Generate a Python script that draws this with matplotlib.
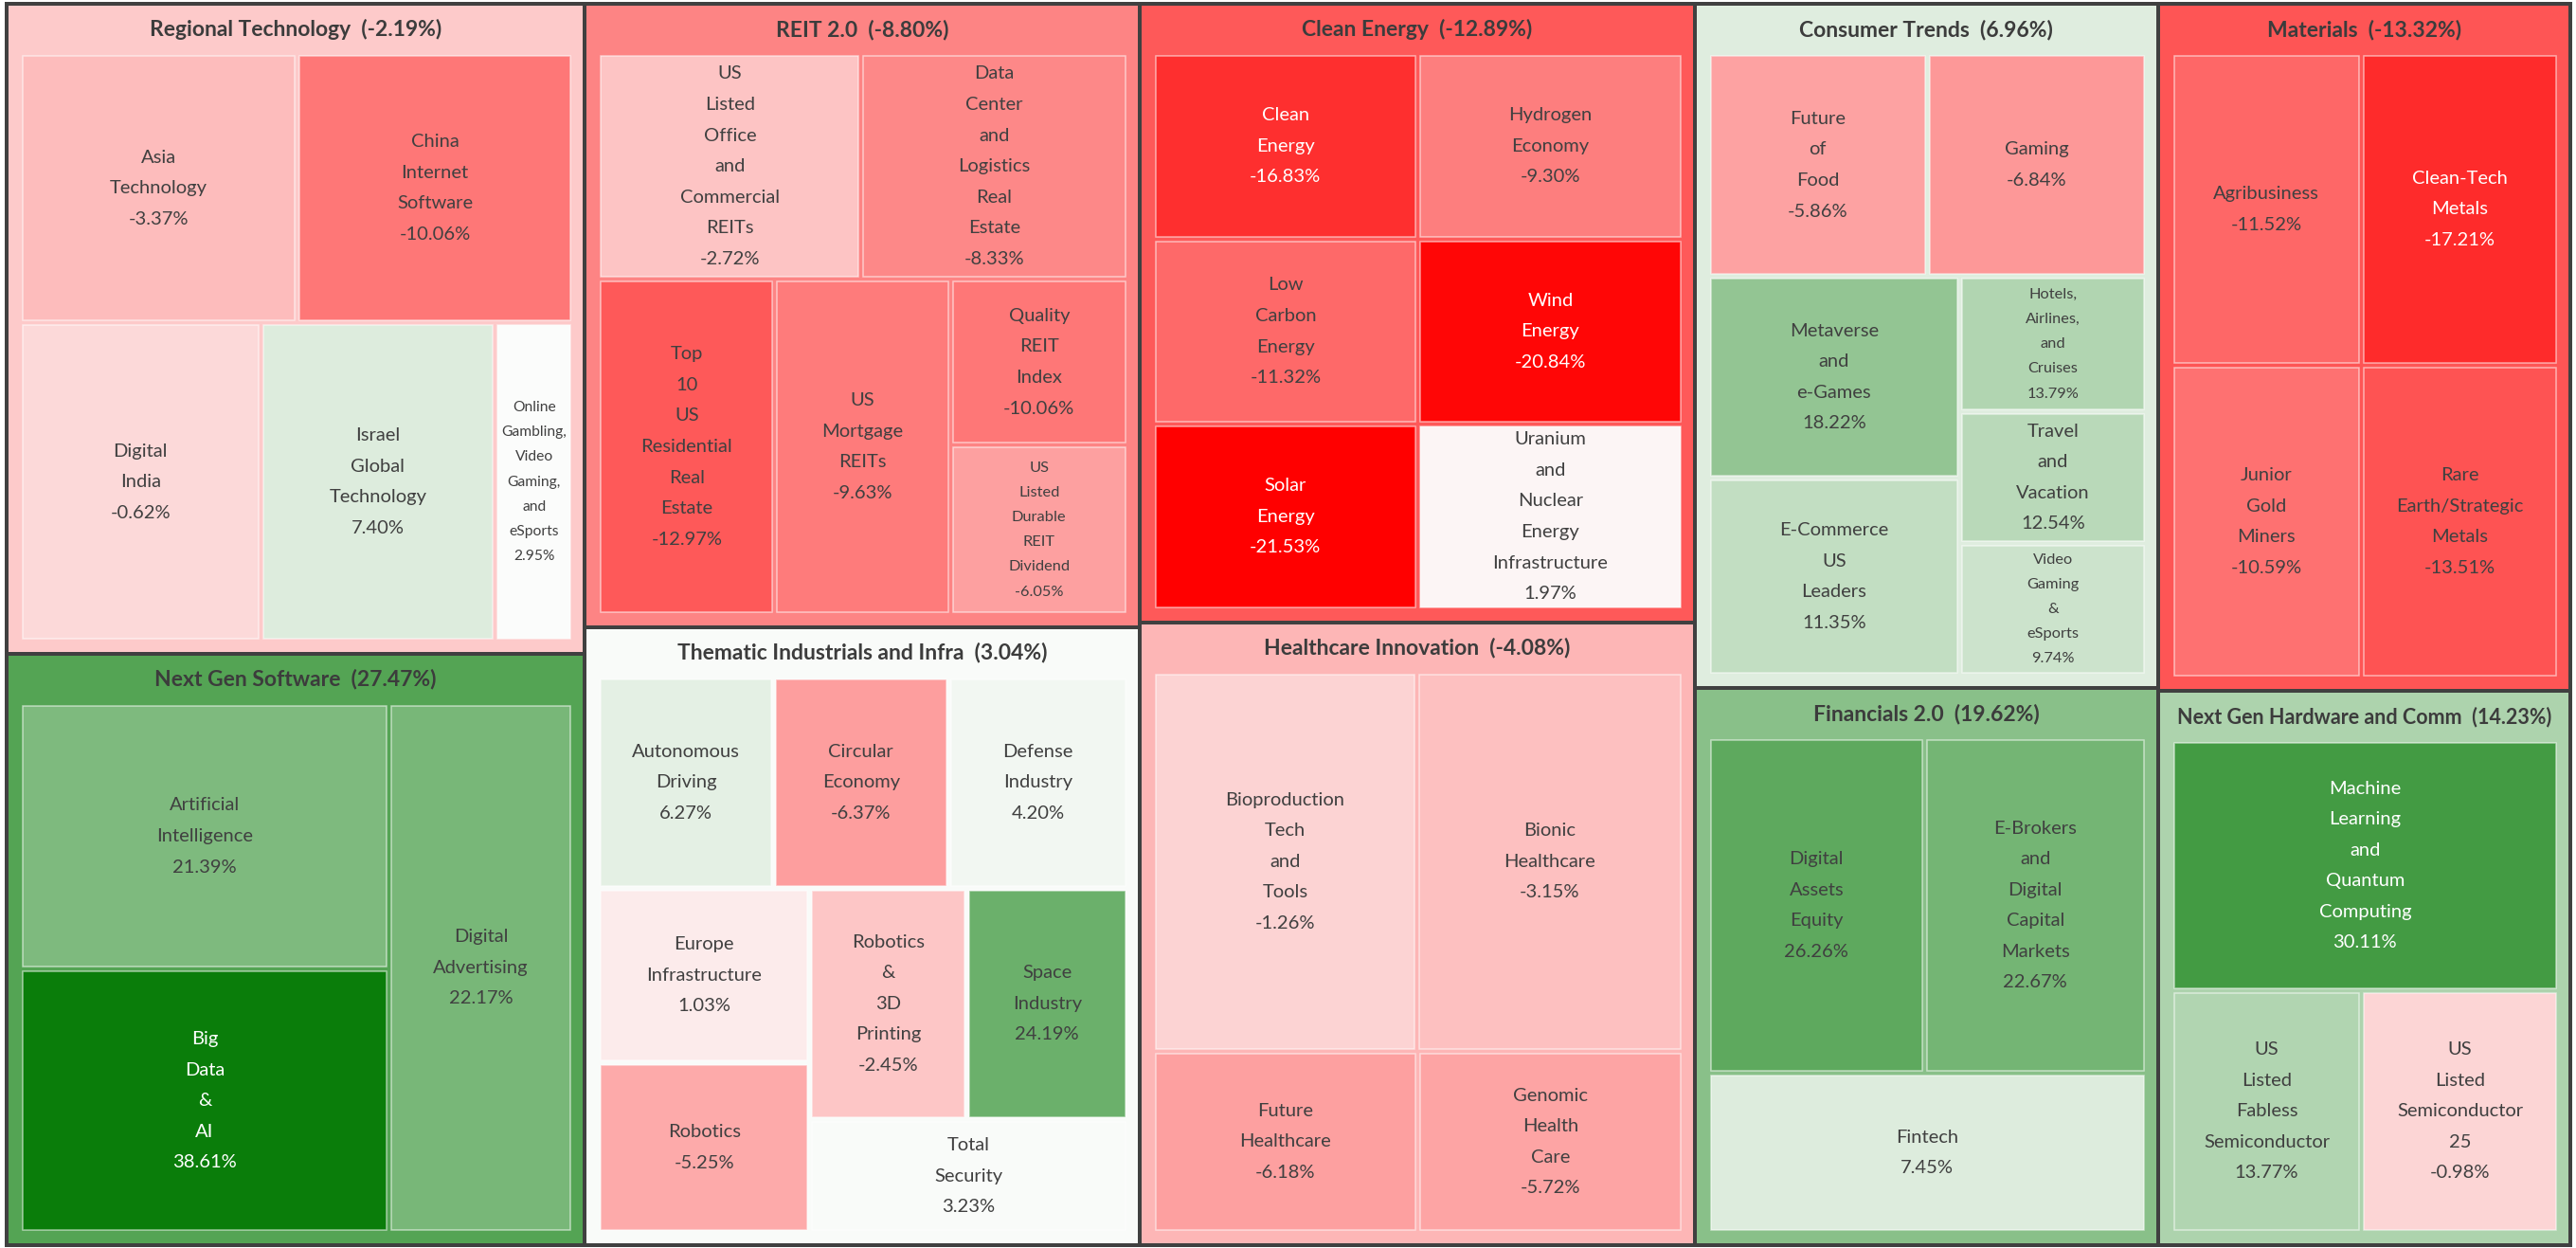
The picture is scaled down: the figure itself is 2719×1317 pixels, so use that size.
import numpy as np
import matplotlib.pyplot as plt
from matplotlib.colors import LinearSegmentedColormap, TwoSlopeNorm
from matplotlib.patches import Rectangle

plt.rcParams['font.family'] = ['Lato', 'DejaVu Sans']

# ---- data ----
group_names = ['Regional Technology', 'Next Gen Software', 'REIT 2.0',
               'Thematic Industrials and Infra', 'Clean Energy', 'Healthcare Innovation',
               'Consumer Trends', 'Financials 2.0', 'Materials', 'Next Gen Hardware and Comm']
group_returns = [-2.19, 27.47, -8.80, 3.04, -12.89, -4.08, 6.96, 19.62, -13.32, 14.23]

tile_groups = (['Regional Technology'] * 5 + ['Next Gen Software'] * 3 + ['REIT 2.0'] * 6
               + ['Thematic Industrials and Infra'] * 8 + ['Clean Energy'] * 6
               + ['Healthcare Innovation'] * 4 + ['Consumer Trends'] * 7
               + ['Financials 2.0'] * 3 + ['Materials'] * 4 + ['Next Gen Hardware and Comm'] * 3)
tile_names = [
    'Asia Technology', 'China Internet Software', 'Digital India', 'Israel Global Technology',
    'Online Gambling, Video Gaming, and eSports',
    'Artificial Intelligence', 'Big Data & AI', 'Digital Advertising',
    'US Listed Office and Commercial REITs', 'Data Center and Logistics Real Estate',
    'Top 10 US Residential Real Estate', 'US Mortgage REITs', 'Quality REIT Index',
    'US Listed Durable REIT Dividend',
    'Autonomous Driving', 'Circular Economy', 'Defense Industry', 'Europe Infrastructure',
    'Robotics', 'Robotics & 3D Printing', 'Space Industry', 'Total Security',
    'Clean Energy', 'Low Carbon Energy', 'Solar Energy', 'Hydrogen Economy', 'Wind Energy',
    'Uranium and Nuclear Energy Infrastructure',
    'Bioproduction Tech and Tools', 'Bionic Healthcare', 'Future Healthcare', 'Genomic Health Care',
    'Future of Food', 'Gaming', 'Metaverse and e-Games', 'E-Commerce US Leaders',
    'Hotels, Airlines, and Cruises', 'Travel and Vacation', 'Video Gaming & eSports',
    'Digital Assets Equity', 'E-Brokers and Digital Capital Markets', 'Fintech',
    'Agribusiness', 'Clean-Tech Metals', 'Junior Gold Miners', 'Rare Earth/Strategic Metals',
    'Machine Learning and Quantum Computing', 'US Listed Fabless Semiconductor',
    'US Listed Semiconductor 25']
tile_returns = [
    -3.37, -10.06, -0.62, 7.40, 2.95,
    21.39, 38.61, 22.17,
    -2.72, -8.33, -12.97, -9.63, -10.06, -6.05,
    6.27, -6.37, 4.20, 1.03, -5.25, -2.45, 24.19, 3.23,
    -16.83, -11.32, -21.53, -9.30, -20.84, 1.97,
    -1.26, -3.15, -6.18, -5.72,
    -5.86, -6.84, 18.22, 11.35, 13.79, 12.54, 9.74,
    26.26, 22.67, 7.45,
    -11.52, -17.21, -10.59, -13.51,
    30.11, 13.77, -0.98]
tile_weights = [
    262, 262, 269, 263, 87,
    348, 345, 347,
    210, 213, 209, 209, 104, 106,
    131, 131, 134, 131, 127, 129, 132, 127,
    174, 174, 174, 174, 174, 174,
    355, 357, 170, 170,
    173, 173, 179, 176, 89, 87, 87,
    263, 269, 253,
    211, 219, 212, 220,
    353, 168, 174]

# ---- treemap arrangement ('h' = side by side, 'v' = stacked) ----
top_layout = ('h', [('v', ['Regional Technology', 'Next Gen Software']),
                    ('v', ['REIT 2.0', 'Thematic Industrials and Infra']),
                    ('v', ['Clean Energy', 'Healthcare Innovation']),
                    ('v', ['Consumer Trends', 'Financials 2.0']),
                    ('v', ['Materials', 'Next Gen Hardware and Comm'])])
group_layout = {
    'Regional Technology': ('v', [('h', ['Asia Technology', 'China Internet Software']),
                                  ('h', ['Digital India', 'Israel Global Technology',
                                         'Online Gambling, Video Gaming, and eSports'])]),
    'Next Gen Software': ('h', [('v', ['Artificial Intelligence', 'Big Data & AI']),
                                'Digital Advertising']),
    'REIT 2.0': ('v', [('h', ['US Listed Office and Commercial REITs',
                              'Data Center and Logistics Real Estate']),
                       ('h', ['Top 10 US Residential Real Estate', 'US Mortgage REITs',
                              ('v', ['Quality REIT Index', 'US Listed Durable REIT Dividend'])])]),
    'Thematic Industrials and Infra': ('v', [('h', ['Autonomous Driving', 'Circular Economy',
                                                    'Defense Industry']),
                                             ('h', [('v', ['Europe Infrastructure', 'Robotics']),
                                                    ('v', [('h', ['Robotics & 3D Printing',
                                                                  'Space Industry']),
                                                           'Total Security'])])]),
    'Clean Energy': ('h', [('v', ['Clean Energy', 'Low Carbon Energy', 'Solar Energy']),
                           ('v', ['Hydrogen Economy', 'Wind Energy',
                                  'Uranium and Nuclear Energy Infrastructure'])]),
    'Healthcare Innovation': ('v', [('h', ['Bioproduction Tech and Tools', 'Bionic Healthcare']),
                                    ('h', ['Future Healthcare', 'Genomic Health Care'])]),
    'Consumer Trends': ('v', [('h', ['Future of Food', 'Gaming']),
                              ('h', [('v', ['Metaverse and e-Games', 'E-Commerce US Leaders']),
                                     ('v', ['Hotels, Airlines, and Cruises', 'Travel and Vacation',
                                            'Video Gaming & eSports'])])]),
    'Financials 2.0': ('v', [('h', ['Digital Assets Equity',
                                    'E-Brokers and Digital Capital Markets']), 'Fintech']),
    'Materials': ('v', [('h', ['Agribusiness', 'Clean-Tech Metals']),
                        ('h', ['Junior Gold Miners', 'Rare Earth/Strategic Metals'])]),
    'Next Gen Hardware and Comm': ('v', ['Machine Learning and Quantum Computing',
                                         ('h', ['US Listed Fabless Semiconductor',
                                                'US Listed Semiconductor 25'])]),
}

tile_w = dict(zip(tile_names, tile_weights))
tile_r = dict(zip(tile_names, tile_returns))
group_r = dict(zip(group_names, group_returns))
group_w = {g: 0 for g in group_names}
for g, w in zip(tile_groups, tile_weights):
    group_w[g] += w


def weight(node, wmap):
    if isinstance(node, str):
        return wmap[node]
    return sum(weight(k, wmap) for k in node[1])


def place(node, x0, y0, x1, y1, wmap, out):
    if isinstance(node, str):
        out[node] = (x0, y0, x1, y1)
        return
    kind, kids = node
    tot = sum(weight(k, wmap) for k in kids)
    pos = x0 if kind == 'h' else y0
    for k in kids:
        f = weight(k, wmap) / tot
        if kind == 'h':
            step = (x1 - x0) * f
            place(k, pos, y0, pos + step, y1, wmap, out)
        else:
            step = (y1 - y0) * f
            place(k, x0, pos, x1, pos + step, wmap, out)
        pos += step


# colour scale: red -> near white (about +2.7%) -> green
cmap = LinearSegmentedColormap.from_list('rg', ['#ff0000', '#fcfcfc', '#0a7d0a'])
norm = TwoSlopeNorm(vmin=-21.53, vcenter=2.7, vmax=38.61)


def text_color(v):
    return 'white' if abs(norm(v) - 0.5) * 2 > 0.72 else '#404040'


W, H = 2719, 1317
fig = plt.figure(figsize=(W / 100, H / 100), dpi=100)
ax = fig.add_axes([0, 0, 1, 1])
ax.set_xlim(0, W)
ax.set_ylim(H, 0)
ax.axis('off')
renderer = fig.canvas.get_renderer()

LS = 2.11
BASE = 14.5


def fit_text(x, y, s, w, h, size, color, bold=False, padw=8, padh=10):
    t = ax.text(x, y, s, ha='center', va='center', fontsize=size, color=color,
                fontweight='bold' if bold else 'normal', linespacing=LS,
                multialignment='center')
    bb = t.get_window_extent(renderer)
    while (bb.width > w - padw or bb.height > h - padh) and size > 4:
        size -= 0.25
        t.set_fontsize(size)
        bb = t.get_window_extent(renderer)
    return t


# dark frame behind everything
ax.add_patch(Rectangle((5, 2), 2710, 1314, facecolor='#404040', edgecolor='none'))

group_rects = {}
place(top_layout, 7, 4, 2713, 1314, group_w, group_rects)

for g in group_names:
    x0, y0, x1, y1 = group_rects[g]
    x0, y0, x1, y1 = x0 + 2, y0 + 2, x1 - 2, y1 - 2
    gv = group_r[g]
    ax.add_patch(Rectangle((x0, y0), x1 - x0, y1 - y0,
                           facecolor=cmap(norm(gv)), edgecolor='none'))
    fit_text((x0 + x1) / 2, y0 + 25, f'{g}  ({gv:.2f}%)', x1 - x0, 60, 16.5,
             '#3c3c3c', bold=True, padw=30, padh=0)

    rects = {}
    place(group_layout[g], x0 + 12.5, y0 + 50.5, x1 - 10.5, y1 - 11.5, tile_w, rects)
    for name, (a0, b0, a1, b1) in rects.items():
        a0, b0, a1, b1 = a0 + 2.5, b0 + 2.5, a1 - 2.5, b1 - 2.5
        v = tile_r[name]
        ax.add_patch(Rectangle((a0, b0), a1 - a0, b1 - b0, facecolor=cmap(norm(v)),
                               edgecolor=(1, 1, 1, 0.55), linewidth=1.1))
        label = '\n'.join(name.split()) + f'\n{v:.2f}%'
        fit_text((a0 + a1) / 2, (b0 + b1) / 2, label, a1 - a0, b1 - b0, BASE,
                 text_color(v))

fig.savefig('out.png', dpi=100, facecolor='white')
